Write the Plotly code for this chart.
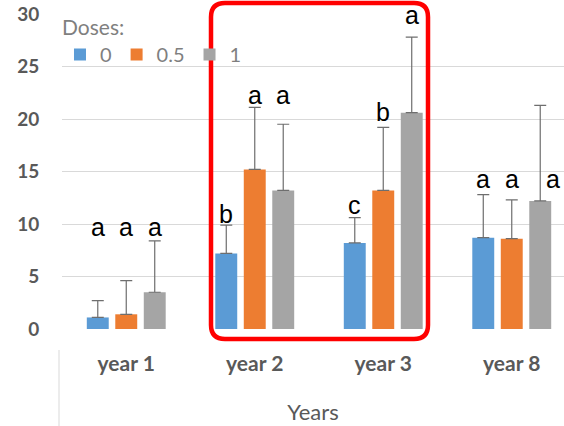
import plotly.graph_objects as go

categories = ["year 1", "year 2", "year 3", "year 8"]
doses = ["0", "0.5", "1"]
mean_0 = [1.1, 7.2, 8.2, 8.7]
mean_05 = [1.4, 15.2, 13.2, 8.6]
mean_1 = [3.5, 13.2, 20.6, 12.2]
err_0 = [1.6, 2.7, 2.4, 4.1]
err_05 = [3.2, 5.9, 6.0, 3.7]
err_1 = [4.9, 6.3, 7.2, 9.1]
letters_0 = ["a", "b", "c", "a"]
letters_05 = ["a", "a", "b", "a"]
letters_1 = ["a", "a", "a", "a"]
letter_y_0 = [9.7, 11.0, 11.8, 14.3]
letter_y_05 = [9.7, 22.3, 20.7, 14.3]
letter_y_1 = [9.7, 22.3, 29.9, 14.3]

colors = ["#5B9BD5", "#ED7D31", "#A5A5A5"]
means = [mean_0, mean_05, mean_1]
errs = [err_0, err_05, err_1]
letters = [letters_0, letters_05, letters_1]
letter_ys = [letter_y_0, letter_y_05, letter_y_1]

W, H = 564, 426
L, R, T, B = 62, 0, 14, 97
pw, ph = W - L - R, H - T - B
BARGAP, GROUPGAP = 0.335, 0.23
xs = list(range(len(categories)))

fig = go.Figure()
for k in range(3):
    fig.add_trace(go.Bar(
        x=xs, y=means[k], name=doses[k], marker_color=colors[k],
        marker_line_width=0,
        error_y=dict(type="data", array=errs[k], arrayminus=[0] * 4,
                     symmetric=False, color="#6E6E6E", thickness=1.2, width=6),
    ))

slot = (1 - BARGAP) / 3
for k in range(3):
    for i in xs:
        xshift = 13 if (k == 2 and i == 3) else 0
        fig.add_annotation(x=i + (k - 1) * slot, y=letter_ys[k][i], text=letters[k][i],
                           showarrow=False, xshift=xshift, yanchor="middle",
                           font=dict(family="Liberation Sans, Arial", size=25, color="#000000"))

def px(x):
    return (x - L) / pw

def py(y):
    return (H - B - y) / ph

# red rounded highlight box
x0, x1, y0, y1, r = 211, 428, 3, 339, 14
path = (f"M {px(x0 + r)},{py(y0)} L {px(x1 - r)},{py(y0)} Q {px(x1)},{py(y0)} {px(x1)},{py(y0 + r)} "
        f"L {px(x1)},{py(y1 - r)} Q {px(x1)},{py(y1)} {px(x1 - r)},{py(y1)} "
        f"L {px(x0 + r)},{py(y1)} Q {px(x0)},{py(y1)} {px(x0)},{py(y1 - r)} "
        f"L {px(x0)},{py(y0 + r)} Q {px(x0)},{py(y0)} {px(x0 + r)},{py(y0)} Z")
fig.add_shape(type="path", path=path, xref="paper", yref="paper",
              line=dict(color="#FF0000", width=4.5))
fig.add_shape(type="line", xref="paper", yref="paper", x0=px(59), x1=px(59),
              y0=py(350), y1=py(426), line=dict(color="#D9D9D9", width=1))

fig.update_layout(
    width=W, height=H, margin=dict(l=L, r=R, t=T, b=B),
    paper_bgcolor="white", plot_bgcolor="white",
    barmode="group", bargap=BARGAP, bargroupgap=GROUPGAP,
    font=dict(family="Lato", color="#595959"),
    legend=dict(orientation="h", x=-0.004, y=1.02, xanchor="left", yanchor="top",
                bgcolor="rgba(0,0,0,0)", itemwidth=30,
                title=dict(text="Doses:", side="top", font=dict(size=21, color="#7F7F7F")),
                font=dict(size=20, color="#7F7F7F")),
    xaxis=dict(range=[-0.5, -0.5 + pw / 128.5], tickvals=xs, ticktext=categories,
               showgrid=False, zeroline=False, showline=False, ticks="",
               tickfont=dict(size=21, weight="bold", color="#595959"),
               ticklabelstandoff=20,
               title=dict(text="Years", font=dict(size=22, color="#595959"), standoff=30)),
    yaxis=dict(range=[0, 30], dtick=5, showgrid=True, gridcolor="#D9D9D9", gridwidth=1,
               zeroline=False, showline=False, ticks="outside", ticklen=18,
               tickcolor="rgba(0,0,0,0)",
               tickfont=dict(size=19, weight="bold", color="#595959")),
)

fig.write_html("out.html")
